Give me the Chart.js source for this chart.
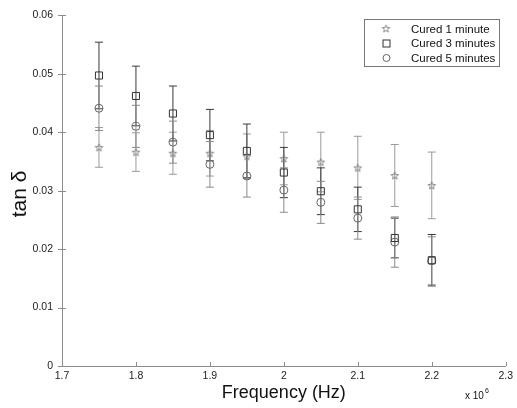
<!DOCTYPE html>
<html>
<head>
<meta charset="utf-8">
<script src="https://cdn.jsdelivr.net/npm/chart.js@4.4.0/dist/chart.umd.min.js"></script>
<style>
  html, body { margin: 0; padding: 0; background: #fff; }
</style>
</head>
<body>
<canvas id="myChart" width="517" height="408"></canvas>
<script>
// frequency in units of 1e6 Hz
const freq = [1.75, 1.8, 1.85, 1.9, 1.95, 2.0, 2.05, 2.1, 2.15, 2.2];

const cured1 = [0.0374, 0.0366, 0.0364, 0.0364, 0.0359, 0.0355, 0.0349, 0.0339, 0.0326, 0.0309];
const cured1Err = [0.0034, 0.0033, 0.0036, 0.0039, 0.0038, 0.0045, 0.0051, 0.0054, 0.0053, 0.0057];

const cured3 = [0.0497, 0.0462, 0.0432, 0.0395, 0.0368, 0.0331, 0.0299, 0.0268, 0.0219, 0.0181];
const cured3Err = [0.0057, 0.0051, 0.0047, 0.0044, 0.0046, 0.0043, 0.0040, 0.0038, 0.0034, 0.0044];

const cured5 = [0.0441, 0.0410, 0.0383, 0.0345, 0.0325, 0.0301, 0.0280, 0.0253, 0.0212, 0.0180];
const cured5Err = [0.0038, 0.0036, 0.0036, 0.0039, 0.0036, 0.0038, 0.0036, 0.0036, 0.0043, 0.0041];

const seriesNames = ['Cured 1 minute', 'Cured 3 minutes', 'Cured 5 minutes'];
const xTicks = [1.7, 1.8, 1.9, 2, 2.1, 2.2, 2.3];
const yTicks = [0, 0.01, 0.02, 0.03, 0.04, 0.05, 0.06];

const FONT = "'Liberation Sans', Arial, Helvetica, sans-serif";
const axisColor = '#8c8c8c';

function makeStar(color) {
  const c = document.createElement('canvas');
  c.width = 11;
  c.height = 11;
  const g = c.getContext('2d');
  g.strokeStyle = color;
  g.lineWidth = 0.9;
  g.beginPath();
  for (let i = 0; i < 10; i++) {
    const r = i % 2 ? 1.6 : 4;
    const a = -Math.PI / 2 + i * Math.PI / 5;
    const px = 5.5 + r * Math.cos(a);
    const py = 5.9 + r * Math.sin(a);
    if (i) g.lineTo(px, py); else g.moveTo(px, py);
  }
  g.closePath();
  g.stroke();
  return c;
}

const starImg = makeStar('#7a7a7a');

const toPoints = arr => arr.map((v, i) => ({ x: freq[i], y: v }));

// error bars drawn with the chart's own scales
const errorBars = {
  id: 'errorBars',
  beforeDatasetsDraw(chart) {
    const ctx = chart.ctx;
    const xs = chart.scales.x;
    const ys = chart.scales.y;
    chart.data.datasets.forEach(ds => {
      ctx.save();
      ctx.strokeStyle = ds.errColor;
      ctx.lineWidth = 1;
      ds.data.forEach((p, i) => {
        const px = xs.getPixelForValue(p.x);
        const top = ys.getPixelForValue(p.y + ds.err[i]);
        const bot = ys.getPixelForValue(p.y - ds.err[i]);
        ctx.beginPath();
        ctx.moveTo(px, top); ctx.lineTo(px, bot);
        ctx.moveTo(px - 4, top); ctx.lineTo(px + 4, top);
        ctx.moveTo(px - 4, bot); ctx.lineTo(px + 4, bot);
        ctx.stroke();
      });
      ctx.restore();
    });
  }
};

// matlab style: ticks, titles, legend box, exponent
const decorations = {
  id: 'decorations',
  afterDraw(chart) {
    const ctx = chart.ctx;
    const area = chart.chartArea;
    const xs = chart.scales.x;
    const ys = chart.scales.y;
    ctx.save();
    ctx.strokeStyle = axisColor;
    ctx.lineWidth = 1;
    ctx.beginPath();
    xTicks.forEach(v => {
      const px = Math.round(xs.getPixelForValue(v)) + 0.5;
      ctx.moveTo(px, area.bottom);
      ctx.lineTo(px, area.bottom - 4);
    });
    yTicks.forEach(v => {
      const py = Math.round(ys.getPixelForValue(v)) + 0.5;
      ctx.moveTo(area.left - 4, py);
      ctx.lineTo(area.left + 4, py);
    });
    ctx.stroke();

    ctx.fillStyle = '#111';
    ctx.textAlign = 'center';
    ctx.textBaseline = 'middle';
    ctx.font = '18px ' + FONT;
    ctx.fillText('Frequency (Hz)', (area.left + area.right) / 2, 393);

    ctx.save();
    ctx.translate(20, 194);
    ctx.rotate(-Math.PI / 2);
    ctx.font = '21px ' + FONT;
    ctx.fillText('tan \u03b4', 0, 0);
    ctx.restore();

    ctx.textAlign = 'left';
    ctx.font = '10px ' + FONT;
    ctx.fillText('x 10', 465, 396);
    ctx.font = '7px ' + FONT;
    ctx.fillText('6', 485, 391);

    // legend
    const box = { l: 364.5, t: 19.5, r: 499.5, b: 66.5 };
    ctx.fillStyle = '#fff';
    ctx.fillRect(box.l, box.t, box.r - box.l, box.b - box.t);
    ctx.strokeStyle = '#777';
    ctx.strokeRect(box.l, box.t, box.r - box.l, box.b - box.t);
    const rows = [28.5, 43, 57.5];
    ctx.font = '11.5px ' + FONT;
    ctx.fillStyle = '#111';
    chart.data.datasets.forEach((ds, i) => {
      const cy = rows[i];
      const mx = 386;
      if (i === 0) {
        ctx.drawImage(starImg, mx - 5.5, cy - 5.5);
      } else if (i === 1) {
        ctx.strokeStyle = '#333';
        ctx.strokeRect(mx - 3, cy - 3, 7, 7);
      } else {
        ctx.strokeStyle = '#666';
        ctx.beginPath();
        ctx.arc(mx + 0.5, cy + 0.5, 3.5, 0, Math.PI * 2);
        ctx.stroke();
      }
      ctx.fillText(ds.label, 411, cy + 1);
    });
    ctx.restore();
  }
};

const ctx = document.getElementById('myChart');

new Chart(ctx, {
  type: 'scatter',
  data: {
    datasets: [
      {
        label: seriesNames[0],
        data: toPoints(cured1),
        err: cured1Err,
        errColor: '#9a9a9a',
        pointStyle: starImg,
        pointRadius: 4,
        showLine: false,
      },
      {
        label: seriesNames[1],
        data: toPoints(cured3),
        err: cured3Err,
        errColor: '#3a3a3a',
        pointStyle: 'rect',
        pointRadius: 5,
        borderColor: '#333',
        backgroundColor: 'rgba(0,0,0,0)',
        borderWidth: 1,
        showLine: false,
      },
      {
        label: seriesNames[2],
        data: toPoints(cured5),
        err: cured5Err,
        errColor: '#8a8a8a',
        pointStyle: 'circle',
        pointRadius: 4,
        borderColor: '#666',
        backgroundColor: 'rgba(0,0,0,0)',
        borderWidth: 1,
        showLine: false,
      },
    ],
  },
  options: {
    responsive: false,
    animation: false,
    devicePixelRatio: 1,
    layout: { padding: { top: 15, right: 9, left: 0, bottom: 0 } },
    plugins: {
      legend: { display: false },
      tooltip: { enabled: false },
    },
    scales: {
      x: {
        type: 'linear',
        min: 1.7,
        max: 2.3,
        afterBuildTicks: s => { s.ticks = xTicks.map(v => ({ value: v })); },
        afterFit: s => { s.height = 42; },
        grid: { display: false, drawTicks: false },
        border: { display: true, color: axisColor },
        ticks: {
          padding: 4,
          color: '#222',
          font: { family: FONT, size: 10.5 },
          maxRotation: 0,
          autoSkip: false,
          callback: v => String(v),
        },
      },
      y: {
        type: 'linear',
        min: 0,
        max: 0.06,
        afterBuildTicks: s => { s.ticks = yTicks.map(v => ({ value: v })); },
        afterFit: s => { s.width = 62; },
        grid: { display: false, drawTicks: false },
        border: { display: true, color: axisColor },
        ticks: {
          padding: 9,
          color: '#222',
          font: { family: FONT, size: 10.5 },
          autoSkip: false,
          callback: v => String(v),
        },
      },
    },
  },
  plugins: [errorBars, decorations],
});
</script>
</body>
</html>
